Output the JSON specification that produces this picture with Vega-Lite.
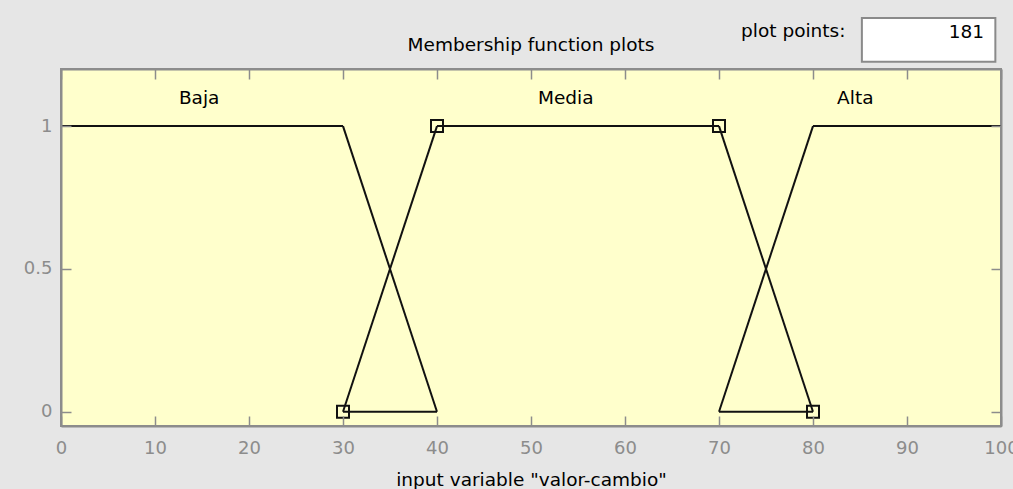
{
  "$schema": "https://vega.github.io/schema/vega-lite/v6.json",
  "width": 940,
  "height": 357,
  "autosize": {"type": "none"},
  "padding": {"left": 61, "top": 69, "right": 12, "bottom": 63},
  "background": "#e6e6e6",
  "config": {
    "view": {"fill": "#ffffcc", "stroke": "#8c8c8c", "strokeWidth": 2},
    "font": "DejaVu Sans"
  },
  "datasets": {
    "segs": [
      {"x": 0, "y": 1, "x2": 30, "y2": 1},
      {"x": 30, "y": 1, "x2": 40, "y2": 0},
      {"x": 30, "y": 0, "x2": 40, "y2": 1},
      {"x": 40, "y": 1, "x2": 70, "y2": 1},
      {"x": 70, "y": 1, "x2": 80, "y2": 0},
      {"x": 30, "y": 0, "x2": 40, "y2": 0},
      {"x": 70, "y": 0, "x2": 80, "y2": 1},
      {"x": 80, "y": 1, "x2": 100, "y2": 1},
      {"x": 70, "y": 0, "x2": 80, "y2": 0}
    ],
    "pts": [
      {"x": 30, "y": 0},
      {"x": 40, "y": 1},
      {"x": 70, "y": 1},
      {"x": 80, "y": 0}
    ],
    "mfnames": [
      {"name": "Baja", "x": 14.7, "y": 1.1},
      {"name": "Media", "x": 53.7, "y": 1.1},
      {"name": "Alta", "x": 84.5, "y": 1.1}
    ],
    "box": [{"x": 85.2, "x2": 99.4, "y": 1.379, "y2": 1.225}],
    "hdr": [
      {"t": "Membership function plots", "x": 50, "y": 1.285},
      {"t": "plot points:", "x": 77.9, "y": 1.334}
    ],
    "num": [{"t": "181", "x": 98.2, "y": 1.33}]
  },
  "layer": [
    {
      "data": {"name": "segs"},
      "mark": {"type": "rule", "color": "#111111", "strokeWidth": 2},
      "encoding": {
        "x": {
          "field": "x", "type": "quantitative",
          "scale": {"domain": [0, 100], "nice": false, "zero": false},
          "axis": {
            "orient": "bottom", "values": [0, 10, 20, 30, 40, 50, 60, 70, 80, 90, 100],
            "tickSize": -10, "tickColor": "#8c8c8c", "tickWidth": 1.5,
            "domainColor": "#8c8c8c", "domainWidth": 2,
            "labelColor": "#8c8c8c", "labelFontSize": 18, "labelPadding": 23, "labelFlush": false,
            "title": "input variable \"valor-cambio\"", "titleFontSize": 18.5, "titleFontWeight": "normal",
            "titleColor": "#000000", "titlePadding": 13, "grid": false, "zindex": 1
          }
        },
        "x2": {"field": "x2"},
        "y": {
          "field": "y", "type": "quantitative",
          "scale": {"domain": [-0.05, 1.2], "nice": false, "zero": false},
          "axis": {
            "orient": "left", "values": [0, 0.5, 1], "format": "~g",
            "tickSize": -10, "tickColor": "#8c8c8c", "tickWidth": 1.5,
            "domainColor": "#8c8c8c", "domainWidth": 2,
            "labelColor": "#8c8c8c", "labelFontSize": 18, "labelPadding": 19,
            "title": null, "grid": false, "zindex": 1
          }
        },
        "y2": {"field": "y2"}
      }
    },
    {
      "data": {"name": "pts"},
      "mark": {"type": "point", "shape": "square", "filled": false, "color": "#111111", "strokeWidth": 2, "size": 144, "opacity": 1},
      "encoding": {
        "x": {
          "field": "x", "type": "quantitative",
          "axis": {
            "orient": "top", "values": [0, 10, 20, 30, 40, 50, 60, 70, 80, 90, 100],
            "tickSize": -10, "tickColor": "#8c8c8c", "tickWidth": 1.5, "labels": false,
            "domainColor": "#8c8c8c", "domainWidth": 2, "title": null, "grid": false, "zindex": 1
          }
        },
        "y": {
          "field": "y", "type": "quantitative",
          "axis": {
            "orient": "right", "values": [0, 0.5, 1],
            "tickSize": -10, "tickColor": "#8c8c8c", "tickWidth": 1.5, "labels": false,
            "domainColor": "#8c8c8c", "domainWidth": 2, "title": null, "grid": false, "zindex": 1
          }
        }
      }
    },
    {
      "data": {"name": "mfnames"},
      "mark": {"type": "text", "fontSize": 18.5, "color": "#000000", "align": "center", "baseline": "middle"},
      "encoding": {
        "x": {"field": "x", "type": "quantitative", "axis": null},
        "y": {"field": "y", "type": "quantitative", "axis": null},
        "text": {"field": "name"}
      }
    },
    {
      "data": {"name": "box"},
      "mark": {"type": "rect", "fill": "#ffffff", "stroke": "#8a8a8a", "strokeWidth": 2},
      "encoding": {
        "x": {"field": "x", "type": "quantitative", "axis": null},
        "x2": {"field": "x2"},
        "y": {"field": "y", "type": "quantitative", "axis": null},
        "y2": {"field": "y2"}
      }
    },
    {
      "data": {"name": "hdr"},
      "mark": {"type": "text", "fontSize": 18.5, "color": "#000000", "align": "center", "baseline": "middle"},
      "encoding": {
        "x": {"field": "x", "type": "quantitative", "axis": null},
        "y": {"field": "y", "type": "quantitative", "axis": null},
        "text": {"field": "t"}
      }
    },
    {
      "data": {"name": "num"},
      "mark": {"type": "text", "fontSize": 18.5, "color": "#000000", "align": "right", "baseline": "middle"},
      "encoding": {
        "x": {"field": "x", "type": "quantitative", "axis": null},
        "y": {"field": "y", "type": "quantitative", "axis": null},
        "text": {"field": "t"}
      }
    }
  ],
  "resolve": {"axis": {"x": "independent", "y": "independent"}}
}
